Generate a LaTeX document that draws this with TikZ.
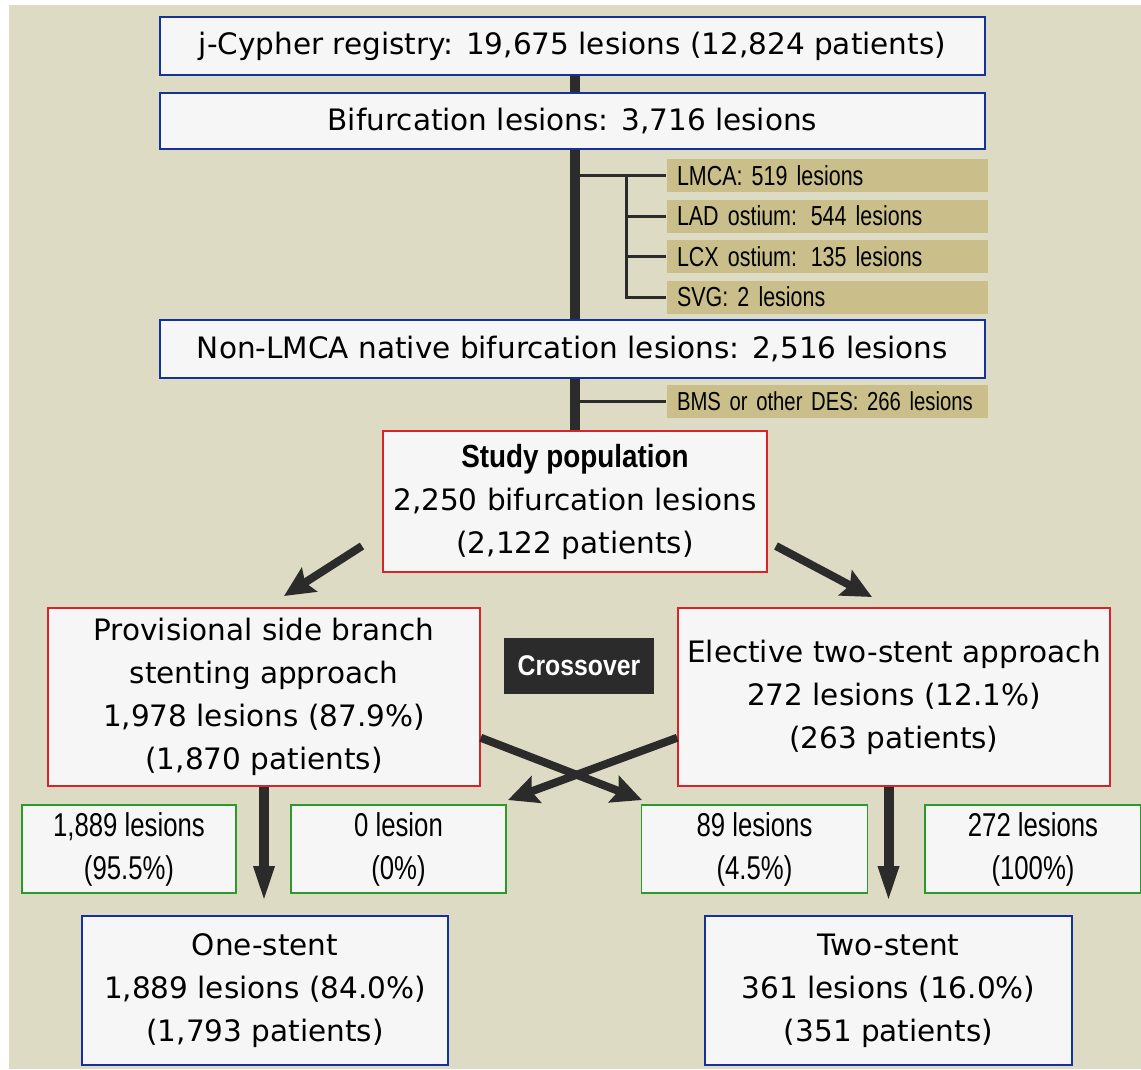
\documentclass[tikz,border=0pt]{standalone}
\usepackage{fontspec}
\setmainfont{DejaVu Sans}
\newfontfamily\narrowfont[FakeStretch=0.78]{Liberation Sans}
\newfontfamily\boldnarrow[FakeStretch=0.87]{Liberation Sans Bold}
\usetikzlibrary{arrows.meta,calc}
\definecolor{cdddbc4}{RGB}{221,219,196}
\definecolor{cf5f5f5}{RGB}{246,246,246}
\definecolor{c14329a}{RGB}{20,50,154}
\definecolor{cd9232b}{RGB}{217,35,43}
\definecolor{c2a9a2a}{RGB}{42,154,42}
\definecolor{ccabf8a}{RGB}{202,191,138}
\definecolor{c2b2b2b}{RGB}{43,43,43}
\pgfdeclarelayer{canvas}
\pgfdeclarelayer{lines}
\pgfsetlayers{canvas,lines,main}
\tikzset{every path/.style={line width=1pt,color=c2b2b2b}}

\begin{document}
\begin{tikzpicture}[x=1pt,y=-1pt]
\useasboundingbox (0,0) rectangle (1141,1069);
\begin{pgfonlayer}{canvas}
\fill[white] (0,0) rectangle (1141,1069);
\fill[cdddbc4] (9,5) rectangle (1141,1069);
\end{pgfonlayer}

\begin{scope}[every node/.style={draw,rectangle,fill=cf5f5f5,line width=2.5pt,inner sep=0pt,
align=center,text=black,font=\fontsize{29.5}{43}\selectfont}]
\node[draw=c14329a,minimum width=825,minimum height=58] (reg) at (572.5,46) {j-Cypher registry: 19,675 lesions (12,824 patients)};
\node[draw=c14329a,minimum width=825,minimum height=56] (bif) at (572.5,121) {Bifurcation lesions: 3,716 lesions};
\node[draw=c14329a,minimum width=825,minimum height=58] (nonl) at (572.5,349) {Non-LMCA native bifurcation lesions: 2,516 lesions};
\node[draw=cd9232b,line width=1.5pt,minimum width=384,minimum height=141] (study) at (575,501.5)
  {{\boldnarrow\fontsize{32}{32}\selectfont Study population}\\2,250 bifurcation lesions\\(2,122 patients)};
\node[draw=cd9232b,line width=1.5pt,minimum width=432,minimum height=178] (prov) at (264,697)
  {Provisional side branch\\stenting approach\\1,978 lesions (87.9\%)\\(1,870 patients)};
\node[draw=cd9232b,line width=1.5pt,minimum width=432,minimum height=178] (elec) at (894,697)
  {Elective two-stent approach\\272 lesions (12.1\%)\\(263 patients)};
\node[draw=c14329a,line width=2pt,minimum width=366,minimum height=149] (one) at (265,990.5)
  {One-stent\\1,889 lesions (84.0\%)\\(1,793 patients)};
\node[draw=c14329a,line width=2pt,minimum width=367,minimum height=149] (two) at (888.5,990.5)
  {Two-stent\\361 lesions (16.0\%)\\(351 patients)};
\end{scope}

\begin{scope}[every node/.style={fill=ccabf8a,anchor=west,minimum height=33,inner xsep=10.5pt,inner ysep=0pt,
text width=300,align=left,text=black,font=\narrowfont\fontsize{27.5}{27.5}\selectfont}]
\node (lmca) at (666,175.5) {LMCA: 519 lesions};
\node (lad) at (666,216) {LAD ostium: 544 lesions};
\node (lcx) at (666,256.5) {LCX ostium: 135 lesions};
\node (svg) at (666,297) {SVG: 2 lesions};
\node[font=\narrowfont\fontsize{26}{26}\selectfont] (bms) at (666,401.5) {\mbox{BMS or other DES: 266 lesions}};
\end{scope}

\begin{scope}[every node/.style={draw=c2a9a2a,fill=cf5f5f5,line width=1.5pt,minimum height=88,inner sep=0pt,
align=center,text=black,font=\narrowfont\fontsize{33}{43}\selectfont}]
\node[minimum width=214] (g1) at (129,849) {1,889 lesions\\(95.5\%)};
\node[minimum width=215] (g2) at (398.5,849) {0 lesion\\(0\%)};
\node[minimum width=226] (g3) at (754.5,849) {89 lesions\\(4.5\%)};
\node[minimum width=216] (g4) at (1033,849) {272 lesions\\(100\%)};
\end{scope}

\node[fill=c2b2b2b,text=white,minimum width=150,minimum height=56,inner sep=0pt,
font=\boldnarrow\fontsize{28.5}{28.5}\selectfont] (cross) at (579,666) {Crossover};

% trunk and side branches
\begin{pgfonlayer}{lines}
\path[draw,line width=10pt] (reg.south -| study.north) -- (study.north);
\end{pgfonlayer}
\coordinate (fork) at (626,176);
\path[draw,line width=3pt] (lmca.west -| study.north) -- (lmca.west);
\path[draw,line width=3pt] (fork) -- (fork |- svg.west) -- (svg.west);
\path[draw,line width=3pt] (fork |- lad.west) -- (lad.west);
\path[draw,line width=3pt] (fork |- lcx.west) -- (lcx.west);
\path[draw,line width=3pt] (bms.west -| study.north) -- (bms.west);

\begin{scope}[every path/.style={draw,line width=8pt,color=c2b2b2b,-{Stealth[width=28pt,length=30pt,inset=5pt]}}]
\coordinate (sl) at (362,546);
\coordinate (pl) at (284,596);
\coordinate (sr) at (776,546);
\coordinate (er) at (872,597);
\path (sl) -- (pl);
\path (sr) -- (er);
\coordinate (xl) at (642,800);
\coordinate (xr) at (508,800);
\path ($(prov.south east)+(0,-49)$) -- (xl);
\path ($(elec.south west)+(0,-49)$) -- (xr);
\end{scope}

\begin{scope}[every path/.style={draw,line width=10pt,color=c2b2b2b,-{Triangle[width=18pt,length=40pt]},shorten >=9pt}]
\path (prov.south) -- (prov.south |- one.north);
\path (two.north |- elec.south) -- (two.north);
\end{scope}

\end{tikzpicture}
\end{document}
